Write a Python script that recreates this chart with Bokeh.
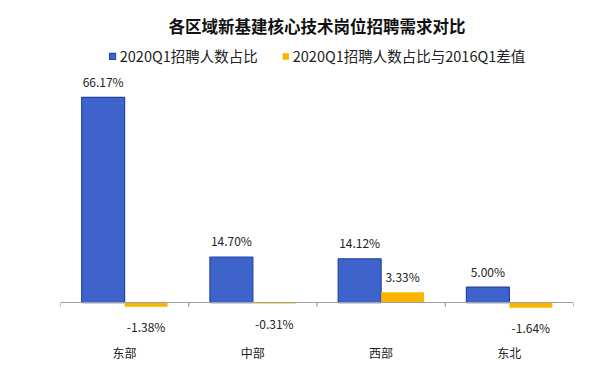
from bokeh.plotting import figure
from bokeh.models import (ColumnDataSource, FixedTicker, LinearAxis, Legend, LegendItem,
                          Range1d)
from bokeh.transform import dodge
from bokeh.core.properties import value
from bokeh.embed import file_html
from bokeh.resources import INLINE

categories = ["东部", "中部", "西部", "东北"]
share_2020q1 = [66.17, 14.70, 14.12, 5.00]
diff_vs_2016q1 = [-1.38, -0.31, 3.33, -1.64]
series_names = ["2020Q1招聘人数占比", "2020Q1招聘人数占比与2016Q1差值"]
title_text = "各区域新基建核心技术岗位招聘需求对比"

FONT = "Noto Sans CJK SC"
BLUE = "#3E64CC"
BLUE_EDGE = "#2244AA"
YELLOW = "#F7B500"

Y0, Y1 = -11.9, 84.5
FRAME_H = 299
px = (Y1 - Y0) / FRAME_H  # data units per pixel

xc = [i + 0.5 for i in range(len(categories))]
bounds = list(range(len(categories) + 1))
src = ColumnDataSource(dict(
    x=xc,
    share=share_2020q1,
    diff=diff_vs_2016q1,
    share_lbl=[f"{v:.2f}%" for v in share_2020q1],
    diff_lbl=[f"{v:.2f}%" for v in diff_vs_2016q1],
    diff_off=[-16 if v >= 0 else 20 for v in diff_vs_2016q1],
))

p = figure(width=600, height=368, output_backend="svg", toolbar_location=None,
           x_range=Range1d(0, len(categories)), y_range=Range1d(Y0, Y1),
           frame_width=513, frame_height=FRAME_H,
           min_border_left=60, min_border_right=27, min_border_bottom=0, min_border_top=40,
           x_axis_location=None, y_axis_location=None)
p.outline_line_color = None
p.grid.visible = False
p.background_fill_color = "white"

p.title.text = title_text
p.title.align = "center"
p.title.text_font = FONT
p.title.text_font_size = "16.5px"
p.title.text_font_style = "bold"
p.title.text_color = "#111111"
p.title.standoff = 6

w = 0.335
r1 = p.vbar(x=dodge("x", -w / 2, range=p.x_range), top="share", bottom=0, width=w,
            source=src, fill_color=BLUE, line_color=BLUE_EDGE, line_width=1.2)
r2 = p.vbar(x=dodge("x", w / 2, range=p.x_range), top="diff", bottom=0, width=w,
            source=src, fill_color=YELLOW, line_color=None)

# baseline at y=0
base_axis = LinearAxis(ticker=FixedTicker(ticks=[]), fixed_location=0,
                       axis_line_color="#A0A0A0", axis_line_width=1,
                       major_tick_line_color=None, minor_tick_line_color=None)
p.add_layout(base_axis, "below")
# boundary ticks
p.segment(x0=bounds, y0=[0] * len(bounds), x1=bounds, y1=[-4 * px] * len(bounds),
          line_color="#808080", line_width=1)

label_axis = LinearAxis(ticker=FixedTicker(ticks=xc),
                        major_label_overrides={x: c for x, c in zip(xc, categories)},
                        axis_line_color=None, major_tick_line_color=None,
                        minor_tick_line_color=None,
                        major_label_text_font=FONT, major_label_text_font_size="12px",
                        major_label_text_color="#222222", major_label_standoff=-2)
p.add_layout(label_axis, "below")

p.text(x=dodge("x", -w / 2, range=p.x_range), y="share", text="share_lbl", source=src,
       text_align="center", text_baseline="middle", y_offset=-16,
       text_font=value(FONT), text_font_size="12px", text_color="#222222")
p.text(x=dodge("x", w / 2, range=p.x_range), y="diff", text="diff_lbl", source=src,
       text_align="center", text_baseline="middle", y_offset="diff_off",
       text_font=value(FONT), text_font_size="12px", text_color="#222222")

legend = Legend(items=[LegendItem(label=series_names[0], renderers=[r1]),
                       LegendItem(label=series_names[1], renderers=[r2])],
                orientation="horizontal", location="top_center",
                background_fill_alpha=0, border_line_color=None,
                label_text_font=FONT, label_text_font_size="14.5px", label_text_color="#222222",
                glyph_width=8, glyph_height=8, spacing=23, padding=2, margin=5,
                label_standoff=4)
p.add_layout(legend)

open("out.html", "w").write(file_html(p, INLINE))
